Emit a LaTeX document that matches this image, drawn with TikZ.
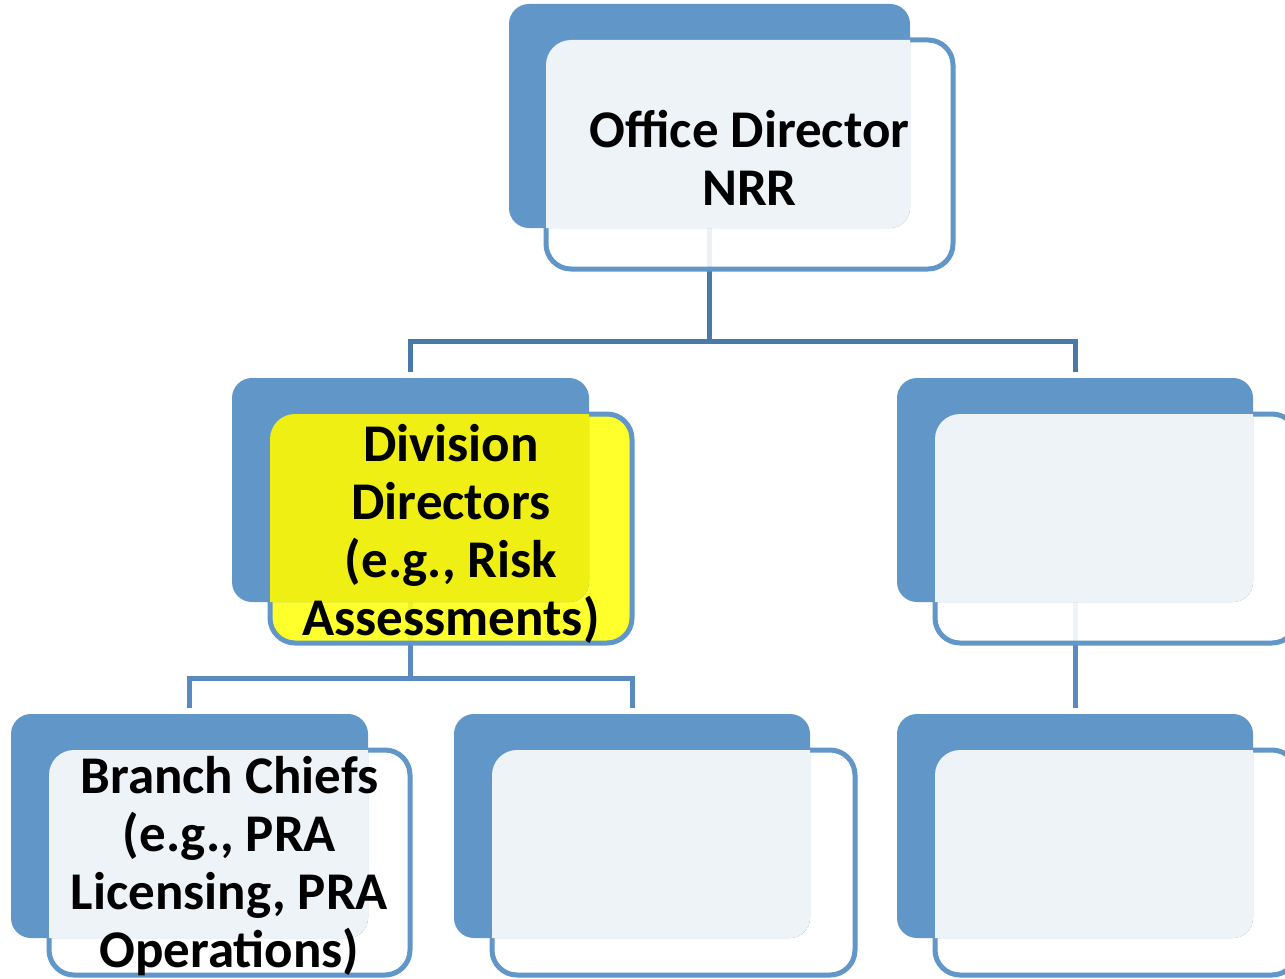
\documentclass[tikz,border=0pt]{standalone}
\usepackage{fontspec}
\setmainfont{Carlito}
\pgfdeclarelayer{bg}
\pgfsetlayers{bg,main}

\definecolor{boxblue}{RGB}{96,150,200}
\definecolor{paneblue}{RGB}{238,243,248}
\definecolor{linkdark}{RGB}{74,120,168}
\definecolor{linklight}{RGB}{90,139,192}
\definecolor{hiyellow}{RGB}{255,255,20}
\definecolor{hipane}{RGB}{239,239,20}

\tikzset{
  backcard/.style={fill=boxblue, draw=none, rounded corners=20, inner sep=0, outer sep=0},
  frontcard/.style={draw=boxblue, line width=5, fill opacity=0.9, rounded corners=25, inner sep=0, outer sep=0},
  linkA/.style={draw=linkdark, line width=5},
  linkB/.style={draw=linklight, line width=5},
  cardtext/.style={align=center, inner sep=0, font=\bfseries\fontsize{53}{58}\selectfont}
}

% #1 name, #2 back centre, #3 back w, #4 back h, #5 front centre,
% #6 front w, #7 front h, #8 front fill, #9 overlap fill
\newcommand\orgunit[9]{%
  \node[frontcard, fill=#8, minimum width=#6, minimum height=#7] (#1f) at #5 {};
  \node[backcard, minimum width=#3, minimum height=#4] (#1b) at #2 {};
  \begin{scope}
    \clip[rounded corners=25] (#1f.south west) rectangle (#1f.north east);
    \fill[#9, rounded corners=20] (#1b.south west) rectangle (#1b.north east);
  \end{scope}
}

\begin{document}
\begin{tikzpicture}[x=1pt, y=-1pt]
  \useasboundingbox (0,0) rectangle (1285,979);
  \clip (0,0) rectangle (1285,979);

  % cards
  \orgunit{od}{(709.5,116)}{401}{224}{(749.5,154.5)}{407}{229}{white}{paneblue}
  \orgunit{dd}{(410.5,490)}{357}{224}{(451,528.5)}{362}{229}{hiyellow}{hipane}
  \orgunit{rm}{(1075,490)}{356}{224}{(1116,528.5)}{362}{229}{white}{paneblue}
  \orgunit{bc}{(189.5,826)}{357}{224}{(229.5,862.5)}{361}{225}{white}{paneblue}
  \orgunit{bm}{(632,826)}{356}{224}{(673.5,862.5)}{363}{225}{white}{paneblue}
  \orgunit{br}{(1075,826)}{356}{224}{(1116,862.5)}{362}{225}{white}{paneblue}

  % labels
  \node[cardtext] (odt) at ([yshift=-3]odf.center) {Office Director\\NRR};
  \node[cardtext] (ddt) at ([yshift=-5]ddf.center) {Division\\Directors\\(e.g., Risk\\Assessments)};
  \node[cardtext] (bct) at ([yshift=-4]bcf.center) {Branch Chiefs\\(e.g., PRA\\Licensing, PRA\\Operations)};

  % connectors
  \begin{pgfonlayer}{bg}
    \coordinate (j1) at (709.5,341);
    \coordinate (j2) at (410.5,678);
    \draw[linkA] (odb.south) -- (j1);
    \draw[linkA] ([yshift=6]ddb.north) -- (ddb.north |- j1) -- (rmb.north |- j1) -- ([yshift=6]rmb.north);
    \draw[linkB] (ddb.south) -- (j2);
    \draw[linkB] ([yshift=6]bcb.north) -- (bcb.north |- j2) -- (bmb.north |- j2) -- ([yshift=6]bmb.north);
    \draw[linkB] (rmb.south) -- ([yshift=6]brb.north);
  \end{pgfonlayer}
\end{tikzpicture}
\end{document}
